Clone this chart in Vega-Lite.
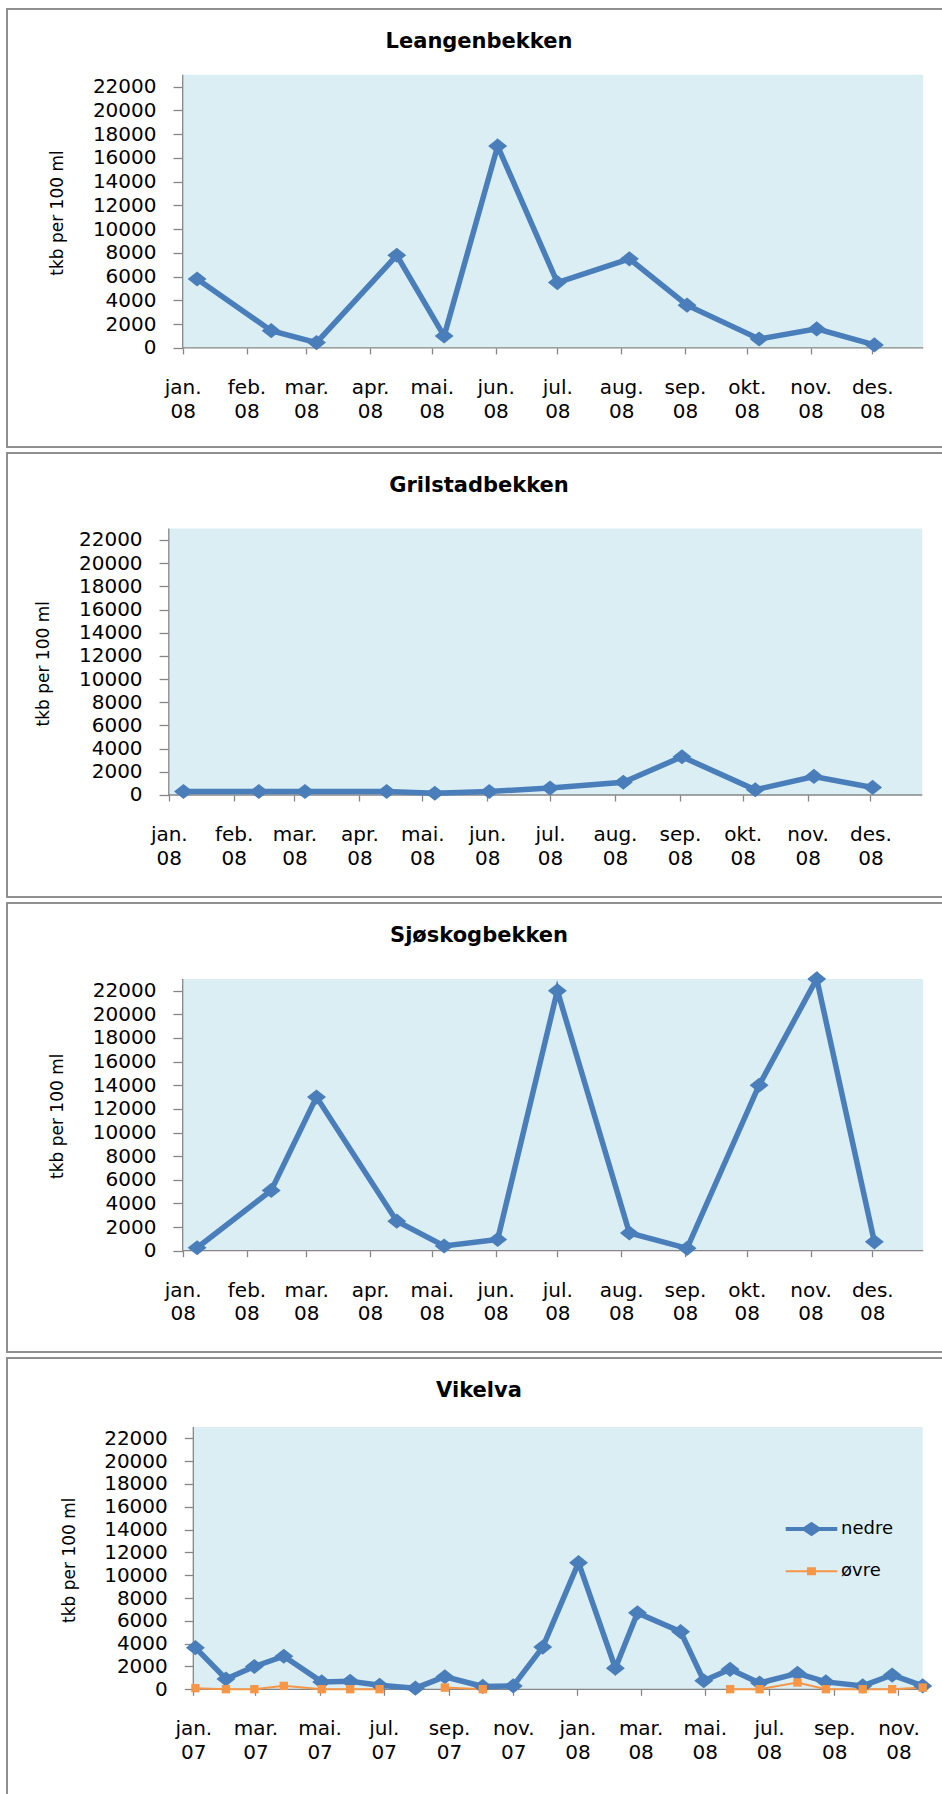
{
  "$schema": "https://vega.github.io/schema/vega-lite/v6.json",
  "padding": {"left": 6, "top": 8, "right": 0, "bottom": 0},
  "spacing": 4,
  "background": "white",
  "config": {
    "font": "DejaVu Sans",
    "view": {"stroke": "#8f8f8f", "strokeWidth": 2},
    "axis": {"domain": false, "grid": false, "tickColor": "#868686", "tickWidth": 1.3, "labelColor": "#000000", "labelFont": "DejaVu Sans", "labelFontSize": 20, "titleColor": "#000000", "titleFont": "DejaVu Sans", "titleFontSize": 17, "titleFontWeight": "normal", "labelOverlap": false, "labelFlush": false},
    "axisY": {"tickSize": 9.7, "labelPadding": 17, "titleAngle": 270, "titleAlign": "center", "titleBaseline": "middle", "titleX": -125, "format": "d"},
    "axisX": {"tickSize": 6, "labelPadding": 23.5, "labelLineHeight": 23.7, "labelBaseline": "top", "labelAlign": "center"},
    "title": {"font": "DejaVu Sans", "fontSize": 21, "fontWeight": "bold", "color": "#000000", "anchor": "middle", "frame": "group", "baseline": "middle", "offset": -43}
  },
  "datasets": {
    "frame08": [{"start": "2008-01-01", "end": "2008-12-25T17:00:00Z", "low": 0, "high": 23000}],
    "frame0708": [{"start": "2007-01-01", "end": "2008-11-24", "low": 0, "high": 23000}],
    "leangen": [
      {"date": "2008-01-08", "value": 5800},
      {"date": "2008-02-13", "value": 1450},
      {"date": "2008-03-06", "value": 450},
      {"date": "2008-04-14", "value": 7800},
      {"date": "2008-05-07", "value": 1000},
      {"date": "2008-06-02", "value": 17000},
      {"date": "2008-07-01", "value": 5500},
      {"date": "2008-08-05", "value": 7500},
      {"date": "2008-09-02", "value": 3600},
      {"date": "2008-10-07", "value": 750},
      {"date": "2008-11-04", "value": 1600},
      {"date": "2008-12-02", "value": 250}
    ],
    "grilstad": [
      {"date": "2008-01-08", "value": 300},
      {"date": "2008-02-13", "value": 300},
      {"date": "2008-03-06", "value": 300},
      {"date": "2008-04-14", "value": 300},
      {"date": "2008-05-07", "value": 150},
      {"date": "2008-06-02", "value": 300},
      {"date": "2008-07-01", "value": 600},
      {"date": "2008-08-05", "value": 1100},
      {"date": "2008-09-02", "value": 3300},
      {"date": "2008-10-07", "value": 450},
      {"date": "2008-11-04", "value": 1600},
      {"date": "2008-12-02", "value": 650}
    ],
    "sjoskog": [
      {"date": "2008-01-08", "value": 250},
      {"date": "2008-02-13", "value": 5100},
      {"date": "2008-03-06", "value": 13000},
      {"date": "2008-04-14", "value": 2500},
      {"date": "2008-05-07", "value": 400},
      {"date": "2008-06-02", "value": 950},
      {"date": "2008-07-01", "value": 22000},
      {"date": "2008-08-05", "value": 1500},
      {"date": "2008-09-02", "value": 200},
      {"date": "2008-10-07", "value": 14000},
      {"date": "2008-11-04", "value": 23000},
      {"date": "2008-12-02", "value": 750}
    ],
    "vikelva": [
      {"date": "2007-01-03", "series": "nedre", "value": 3650},
      {"date": "2007-02-01", "series": "nedre", "value": 900},
      {"date": "2007-02-28", "series": "nedre", "value": 2000},
      {"date": "2007-03-28", "series": "nedre", "value": 2900},
      {"date": "2007-05-03", "series": "nedre", "value": 650},
      {"date": "2007-05-30", "series": "nedre", "value": 700},
      {"date": "2007-06-27", "series": "nedre", "value": 350},
      {"date": "2007-07-31", "series": "nedre", "value": 100},
      {"date": "2007-08-28", "series": "nedre", "value": 1100},
      {"date": "2007-10-03", "series": "nedre", "value": 250},
      {"date": "2007-11-01", "series": "nedre", "value": 300},
      {"date": "2007-11-29", "series": "nedre", "value": 3700},
      {"date": "2008-01-02", "series": "nedre", "value": 11100},
      {"date": "2008-02-06", "series": "nedre", "value": 1850},
      {"date": "2008-02-27", "series": "nedre", "value": 6700},
      {"date": "2008-04-08", "series": "nedre", "value": 5050},
      {"date": "2008-04-30", "series": "nedre", "value": 750},
      {"date": "2008-05-25", "series": "nedre", "value": 1750},
      {"date": "2008-06-22", "series": "nedre", "value": 550},
      {"date": "2008-07-28", "series": "nedre", "value": 1400},
      {"date": "2008-08-24", "series": "nedre", "value": 650},
      {"date": "2008-09-28", "series": "nedre", "value": 300},
      {"date": "2008-10-26", "series": "nedre", "value": 1250},
      {"date": "2008-11-24", "series": "nedre", "value": 300},
      {"date": "2007-01-03", "series": "øvre", "value": 100},
      {"date": "2007-02-01", "series": "øvre", "value": 10},
      {"date": "2007-02-28", "series": "øvre", "value": 10},
      {"date": "2007-03-28", "series": "øvre", "value": 300},
      {"date": "2007-05-03", "series": "øvre", "value": 10},
      {"date": "2007-05-30", "series": "øvre", "value": 10},
      {"date": "2007-06-27", "series": "øvre", "value": 10},
      {"date": "2007-07-31", "series": "øvre", "value": null},
      {"date": "2007-08-28", "series": "øvre", "value": 150},
      {"date": "2007-10-03", "series": "øvre", "value": 10},
      {"date": "2007-11-01", "series": "øvre", "value": null},
      {"date": "2007-11-29", "series": "øvre", "value": null},
      {"date": "2008-01-02", "series": "øvre", "value": null},
      {"date": "2008-02-06", "series": "øvre", "value": null},
      {"date": "2008-02-27", "series": "øvre", "value": null},
      {"date": "2008-04-08", "series": "øvre", "value": null},
      {"date": "2008-04-30", "series": "øvre", "value": null},
      {"date": "2008-05-25", "series": "øvre", "value": 10},
      {"date": "2008-06-22", "series": "øvre", "value": 10},
      {"date": "2008-07-28", "series": "øvre", "value": 600},
      {"date": "2008-08-24", "series": "øvre", "value": 10},
      {"date": "2008-09-28", "series": "øvre", "value": 10},
      {"date": "2008-10-26", "series": "øvre", "value": 10},
      {"date": "2008-11-24", "series": "øvre", "value": 150}
    ]
  },
  "vconcat": [
    {
      "width": 944, "height": 438,
      "title": {"text": "Leangenbekken"},
      "data": {"name": "leangen"},
      "encoding": {
        "x": {"field": "date", "type": "temporal",
          "scale": {"type": "utc", "domain": [{"year": 2007, "month": 10, "date": 7, "hours": 15, "minutes": 32, "utc": true}, {"year": 2009, "month": 1, "date": 8, "hours": 5, "minutes": 31, "utc": true}]},
          "axis": {"offset": -99.1, "title": null,
            "values": [{"year": 2008, "month": 1, "date": 1, "utc": true}, {"year": 2008, "month": 2, "date": 1, "utc": true}, {"year": 2008, "month": 3, "date": 1, "utc": true}, {"year": 2008, "month": 4, "date": 1, "utc": true}, {"year": 2008, "month": 5, "date": 1, "utc": true}, {"year": 2008, "month": 6, "date": 1, "utc": true}, {"year": 2008, "month": 7, "date": 1, "utc": true}, {"year": 2008, "month": 8, "date": 1, "utc": true}, {"year": 2008, "month": 9, "date": 1, "utc": true}, {"year": 2008, "month": 10, "date": 1, "utc": true}, {"year": 2008, "month": 11, "date": 1, "utc": true}, {"year": 2008, "month": 12, "date": 1, "utc": true}],
            "labelExpr": "[['jan.','feb.','mar.','apr.','mai.','jun.','jul.','aug.','sep.','okt.','nov.','des.'][utcmonth(datum.value)], utcFormat(datum.value, '%y')]"}},
        "y": {"field": "value", "type": "quantitative",
          "scale": {"domain": [-8346, 28541], "nice": false, "zero": false},
          "axis": {"offset": -175.7, "title": "tkb per 100 ml", "titleY": 203.5, "values": [0, 2000, 4000, 6000, 8000, 10000, 12000, 14000, 16000, 18000, 20000, 22000]}}
      },
      "layer": [
        {"data": {"name": "frame08"}, "mark": {"type": "rect", "fill": "#DBEEF4"},
          "encoding": {"x": {"field": "start", "type": "temporal"}, "x2": {"field": "end"}, "y": {"field": "low", "type": "quantitative"}, "y2": {"field": "high"}}},
        {"data": {"name": "frame08"}, "mark": {"type": "rule", "color": "#868686", "strokeWidth": 1.3},
          "encoding": {"x": {"field": "start", "type": "temporal"}, "x2": {"field": "end"}, "y": {"field": "low", "type": "quantitative"}}},
        {"data": {"name": "frame08"}, "mark": {"type": "rule", "color": "#868686", "strokeWidth": 1.3},
          "encoding": {"x": {"field": "start", "type": "temporal"}, "y": {"field": "low", "type": "quantitative"}, "y2": {"field": "high"}}},
        {"mark": {"type": "line", "color": "#4A7EBB", "strokeWidth": 5.5}},
        {"mark": {"type": "point", "filled": true, "opacity": 1, "color": "#4A7EBB", "shape": "M-1,0L0,-0.8L1,0L0,0.8Z", "size": 360}}
      ]
    },
    {
      "width": 944, "height": 444,
      "title": {"text": "Grilstadbekken"},
      "data": {"name": "grilstad"},
      "encoding": {
        "x": {"field": "date", "type": "temporal",
          "scale": {"type": "utc", "domain": [{"year": 2007, "month": 10, "date": 15, "hours": 18, "minutes": 6, "utc": true}, {"year": 2009, "month": 1, "date": 8, "hours": 10, "minutes": 34, "utc": true}]},
          "axis": {"offset": -102, "title": null,
            "values": [{"year": 2008, "month": 1, "date": 1, "utc": true}, {"year": 2008, "month": 2, "date": 1, "utc": true}, {"year": 2008, "month": 3, "date": 1, "utc": true}, {"year": 2008, "month": 4, "date": 1, "utc": true}, {"year": 2008, "month": 5, "date": 1, "utc": true}, {"year": 2008, "month": 6, "date": 1, "utc": true}, {"year": 2008, "month": 7, "date": 1, "utc": true}, {"year": 2008, "month": 8, "date": 1, "utc": true}, {"year": 2008, "month": 9, "date": 1, "utc": true}, {"year": 2008, "month": 10, "date": 1, "utc": true}, {"year": 2008, "month": 11, "date": 1, "utc": true}, {"year": 2008, "month": 12, "date": 1, "utc": true}],
            "labelExpr": "[['jan.','feb.','mar.','apr.','mai.','jun.','jul.','aug.','sep.','okt.','nov.','des.'][utcmonth(datum.value)], utcFormat(datum.value, '%y')]"}},
        "y": {"field": "value", "type": "quantitative",
          "scale": {"domain": [-8800, 29505], "nice": false, "zero": false},
          "axis": {"offset": -161.8, "title": "tkb per 100 ml", "titleY": 210.3, "values": [0, 2000, 4000, 6000, 8000, 10000, 12000, 14000, 16000, 18000, 20000, 22000]}}
      },
      "layer": [
        {"data": {"name": "frame08"}, "mark": {"type": "rect", "fill": "#DBEEF4"},
          "encoding": {"x": {"field": "start", "type": "temporal"}, "x2": {"field": "end"}, "y": {"field": "low", "type": "quantitative"}, "y2": {"field": "high"}}},
        {"data": {"name": "frame08"}, "mark": {"type": "rule", "color": "#868686", "strokeWidth": 1.3},
          "encoding": {"x": {"field": "start", "type": "temporal"}, "x2": {"field": "end"}, "y": {"field": "low", "type": "quantitative"}}},
        {"data": {"name": "frame08"}, "mark": {"type": "rule", "color": "#868686", "strokeWidth": 1.3},
          "encoding": {"x": {"field": "start", "type": "temporal"}, "y": {"field": "low", "type": "quantitative"}, "y2": {"field": "high"}}},
        {"mark": {"type": "line", "color": "#4A7EBB", "strokeWidth": 5.5}},
        {"mark": {"type": "point", "filled": true, "opacity": 1, "color": "#4A7EBB", "shape": "M-1,0L0,-0.8L1,0L0,0.8Z", "size": 360}}
      ]
    },
    {
      "width": 944, "height": 449,
      "title": {"text": "Sjøskogbekken"},
      "data": {"name": "sjoskog"},
      "encoding": {
        "x": {"field": "date", "type": "temporal",
          "scale": {"type": "utc", "domain": [{"year": 2007, "month": 10, "date": 7, "hours": 15, "minutes": 32, "utc": true}, {"year": 2009, "month": 1, "date": 8, "hours": 5, "minutes": 31, "utc": true}]},
          "axis": {"offset": -101.3, "title": null,
            "values": [{"year": 2008, "month": 1, "date": 1, "utc": true}, {"year": 2008, "month": 2, "date": 1, "utc": true}, {"year": 2008, "month": 3, "date": 1, "utc": true}, {"year": 2008, "month": 4, "date": 1, "utc": true}, {"year": 2008, "month": 5, "date": 1, "utc": true}, {"year": 2008, "month": 6, "date": 1, "utc": true}, {"year": 2008, "month": 7, "date": 1, "utc": true}, {"year": 2008, "month": 8, "date": 1, "utc": true}, {"year": 2008, "month": 9, "date": 1, "utc": true}, {"year": 2008, "month": 10, "date": 1, "utc": true}, {"year": 2008, "month": 11, "date": 1, "utc": true}, {"year": 2008, "month": 12, "date": 1, "utc": true}],
            "labelExpr": "[['jan.','feb.','mar.','apr.','mai.','jun.','jul.','aug.','sep.','okt.','nov.','des.'][utcmonth(datum.value)], utcFormat(datum.value, '%y')]"}},
        "y": {"field": "value", "type": "quantitative",
          "scale": {"domain": [-8572, 29423], "nice": false, "zero": false},
          "axis": {"offset": -175.6, "title": "tkb per 100 ml", "titleY": 212.8, "values": [0, 2000, 4000, 6000, 8000, 10000, 12000, 14000, 16000, 18000, 20000, 22000]}}
      },
      "layer": [
        {"data": {"name": "frame08"}, "mark": {"type": "rect", "fill": "#DBEEF4"},
          "encoding": {"x": {"field": "start", "type": "temporal"}, "x2": {"field": "end"}, "y": {"field": "low", "type": "quantitative"}, "y2": {"field": "high"}}},
        {"data": {"name": "frame08"}, "mark": {"type": "rule", "color": "#868686", "strokeWidth": 1.3},
          "encoding": {"x": {"field": "start", "type": "temporal"}, "x2": {"field": "end"}, "y": {"field": "low", "type": "quantitative"}}},
        {"data": {"name": "frame08"}, "mark": {"type": "rule", "color": "#868686", "strokeWidth": 1.3},
          "encoding": {"x": {"field": "start", "type": "temporal"}, "y": {"field": "low", "type": "quantitative"}, "y2": {"field": "high"}}},
        {"mark": {"type": "line", "color": "#4A7EBB", "strokeWidth": 5.5}},
        {"mark": {"type": "point", "filled": true, "opacity": 1, "color": "#4A7EBB", "shape": "M-1,0L0,-0.8L1,0L0,0.8Z", "size": 360}}
      ]
    },
    {
      "width": 944, "height": 445,
      "title": {"text": "Vikelva"},
      "data": {"name": "vikelva"},
      "encoding": {
        "x": {"field": "date", "type": "temporal",
          "scale": {"type": "utc", "domain": [{"year": 2006, "month": 7, "date": 7, "hours": 23, "minutes": 46, "utc": true}, {"year": 2008, "month": 12, "date": 20, "hours": 21, "minutes": 36, "utc": true}]},
          "axis": {"offset": -113.7, "title": null,
            "values": [{"year": 2007, "month": 1, "date": 1, "utc": true}, {"year": 2007, "month": 3, "date": 1, "utc": true}, {"year": 2007, "month": 5, "date": 1, "utc": true}, {"year": 2007, "month": 7, "date": 1, "utc": true}, {"year": 2007, "month": 9, "date": 1, "utc": true}, {"year": 2007, "month": 11, "date": 1, "utc": true}, {"year": 2008, "month": 1, "date": 1, "utc": true}, {"year": 2008, "month": 3, "date": 1, "utc": true}, {"year": 2008, "month": 5, "date": 1, "utc": true}, {"year": 2008, "month": 7, "date": 1, "utc": true}, {"year": 2008, "month": 9, "date": 1, "utc": true}, {"year": 2008, "month": 11, "date": 1, "utc": true}],
            "labelExpr": "[['jan.','feb.','mar.','apr.','mai.','jun.','jul.','aug.','sep.','okt.','nov.','des.'][utcmonth(datum.value)], utcFormat(datum.value, '%y')]"}},
        "y": {"field": "value", "type": "quantitative",
          "scale": {"domain": [-9966, 29039], "nice": false, "zero": false},
          "axis": {"offset": -187, "title": "tkb per 100 ml", "titleY": 201.7, "values": [0, 2000, 4000, 6000, 8000, 10000, 12000, 14000, 16000, 18000, 20000, 22000]}}
      },
      "layer": [
        {"data": {"name": "frame0708"}, "mark": {"type": "rect", "fill": "#DBEEF4"},
          "encoding": {"x": {"field": "start", "type": "temporal"}, "x2": {"field": "end"}, "y": {"field": "low", "type": "quantitative"}, "y2": {"field": "high"}}},
        {"data": {"name": "frame0708"}, "mark": {"type": "rule", "color": "#868686", "strokeWidth": 1.3},
          "encoding": {"x": {"field": "start", "type": "temporal"}, "x2": {"field": "end"}, "y": {"field": "low", "type": "quantitative"}}},
        {"data": {"name": "frame0708"}, "mark": {"type": "rule", "color": "#868686", "strokeWidth": 1.3},
          "encoding": {"x": {"field": "start", "type": "temporal"}, "y": {"field": "low", "type": "quantitative"}, "y2": {"field": "high"}}},
        {"transform": [{"filter": "datum.series === 'øvre'"}],
          "mark": {"type": "line", "strokeWidth": 2, "invalid": "break-paths-filter-domains"},
          "encoding": {"color": {"field": "series", "type": "nominal", "scale": {"domain": ["nedre", "øvre"], "range": ["#4A7EBB", "#F79646"]},
            "legend": {"title": null, "orient": "none", "legendX": 795.5, "legendY": 1511, "symbolSize": 1849, "labelFont": "DejaVu Sans", "labelFontSize": 18, "labelColor": "#000000", "labelOffset": 20.5, "rowPadding": 20.3, "padding": 0,
              "encode": {"symbols": {"update": {
                "shape": {"signal": "datum.value === 'nedre' ? 'M-1.2,0L1.2,0M-0.33,0L0,-0.22L0.33,0L0,0.22Z' : 'M-1.2,0L1.2,0M-0.16,-0.14L0.16,-0.14L0.16,0.14L-0.16,0.14Z'"},
                "strokeWidth": {"signal": "datum.value === 'nedre' ? 4 : 2"},
                "fill": {"signal": "datum.value === 'nedre' ? '#4A7EBB' : '#F79646'"},
                "stroke": {"signal": "datum.value === 'nedre' ? '#4A7EBB' : '#F79646'"},
                "opacity": {"value": 1}, "fillOpacity": {"value": 1}, "strokeOpacity": {"value": 1}}}}}}}},
        {"transform": [{"filter": "datum.series === 'nedre'"}],
          "mark": {"type": "line", "strokeWidth": 5.5},
          "encoding": {"color": {"field": "series", "type": "nominal"}}},
        {"transform": [{"filter": "datum.series === 'nedre'"}],
          "mark": {"type": "point", "filled": true, "opacity": 1, "shape": "M-1,0L0,-0.8L1,0L0,0.8Z", "size": 360},
          "encoding": {"color": {"field": "series", "type": "nominal"}}},
        {"transform": [{"filter": "datum.series === 'øvre'"}],
          "mark": {"type": "point", "filled": true, "opacity": 1, "shape": "square", "size": 70},
          "encoding": {"color": {"field": "series", "type": "nominal"}}}
      ]
    }
  ]
}
